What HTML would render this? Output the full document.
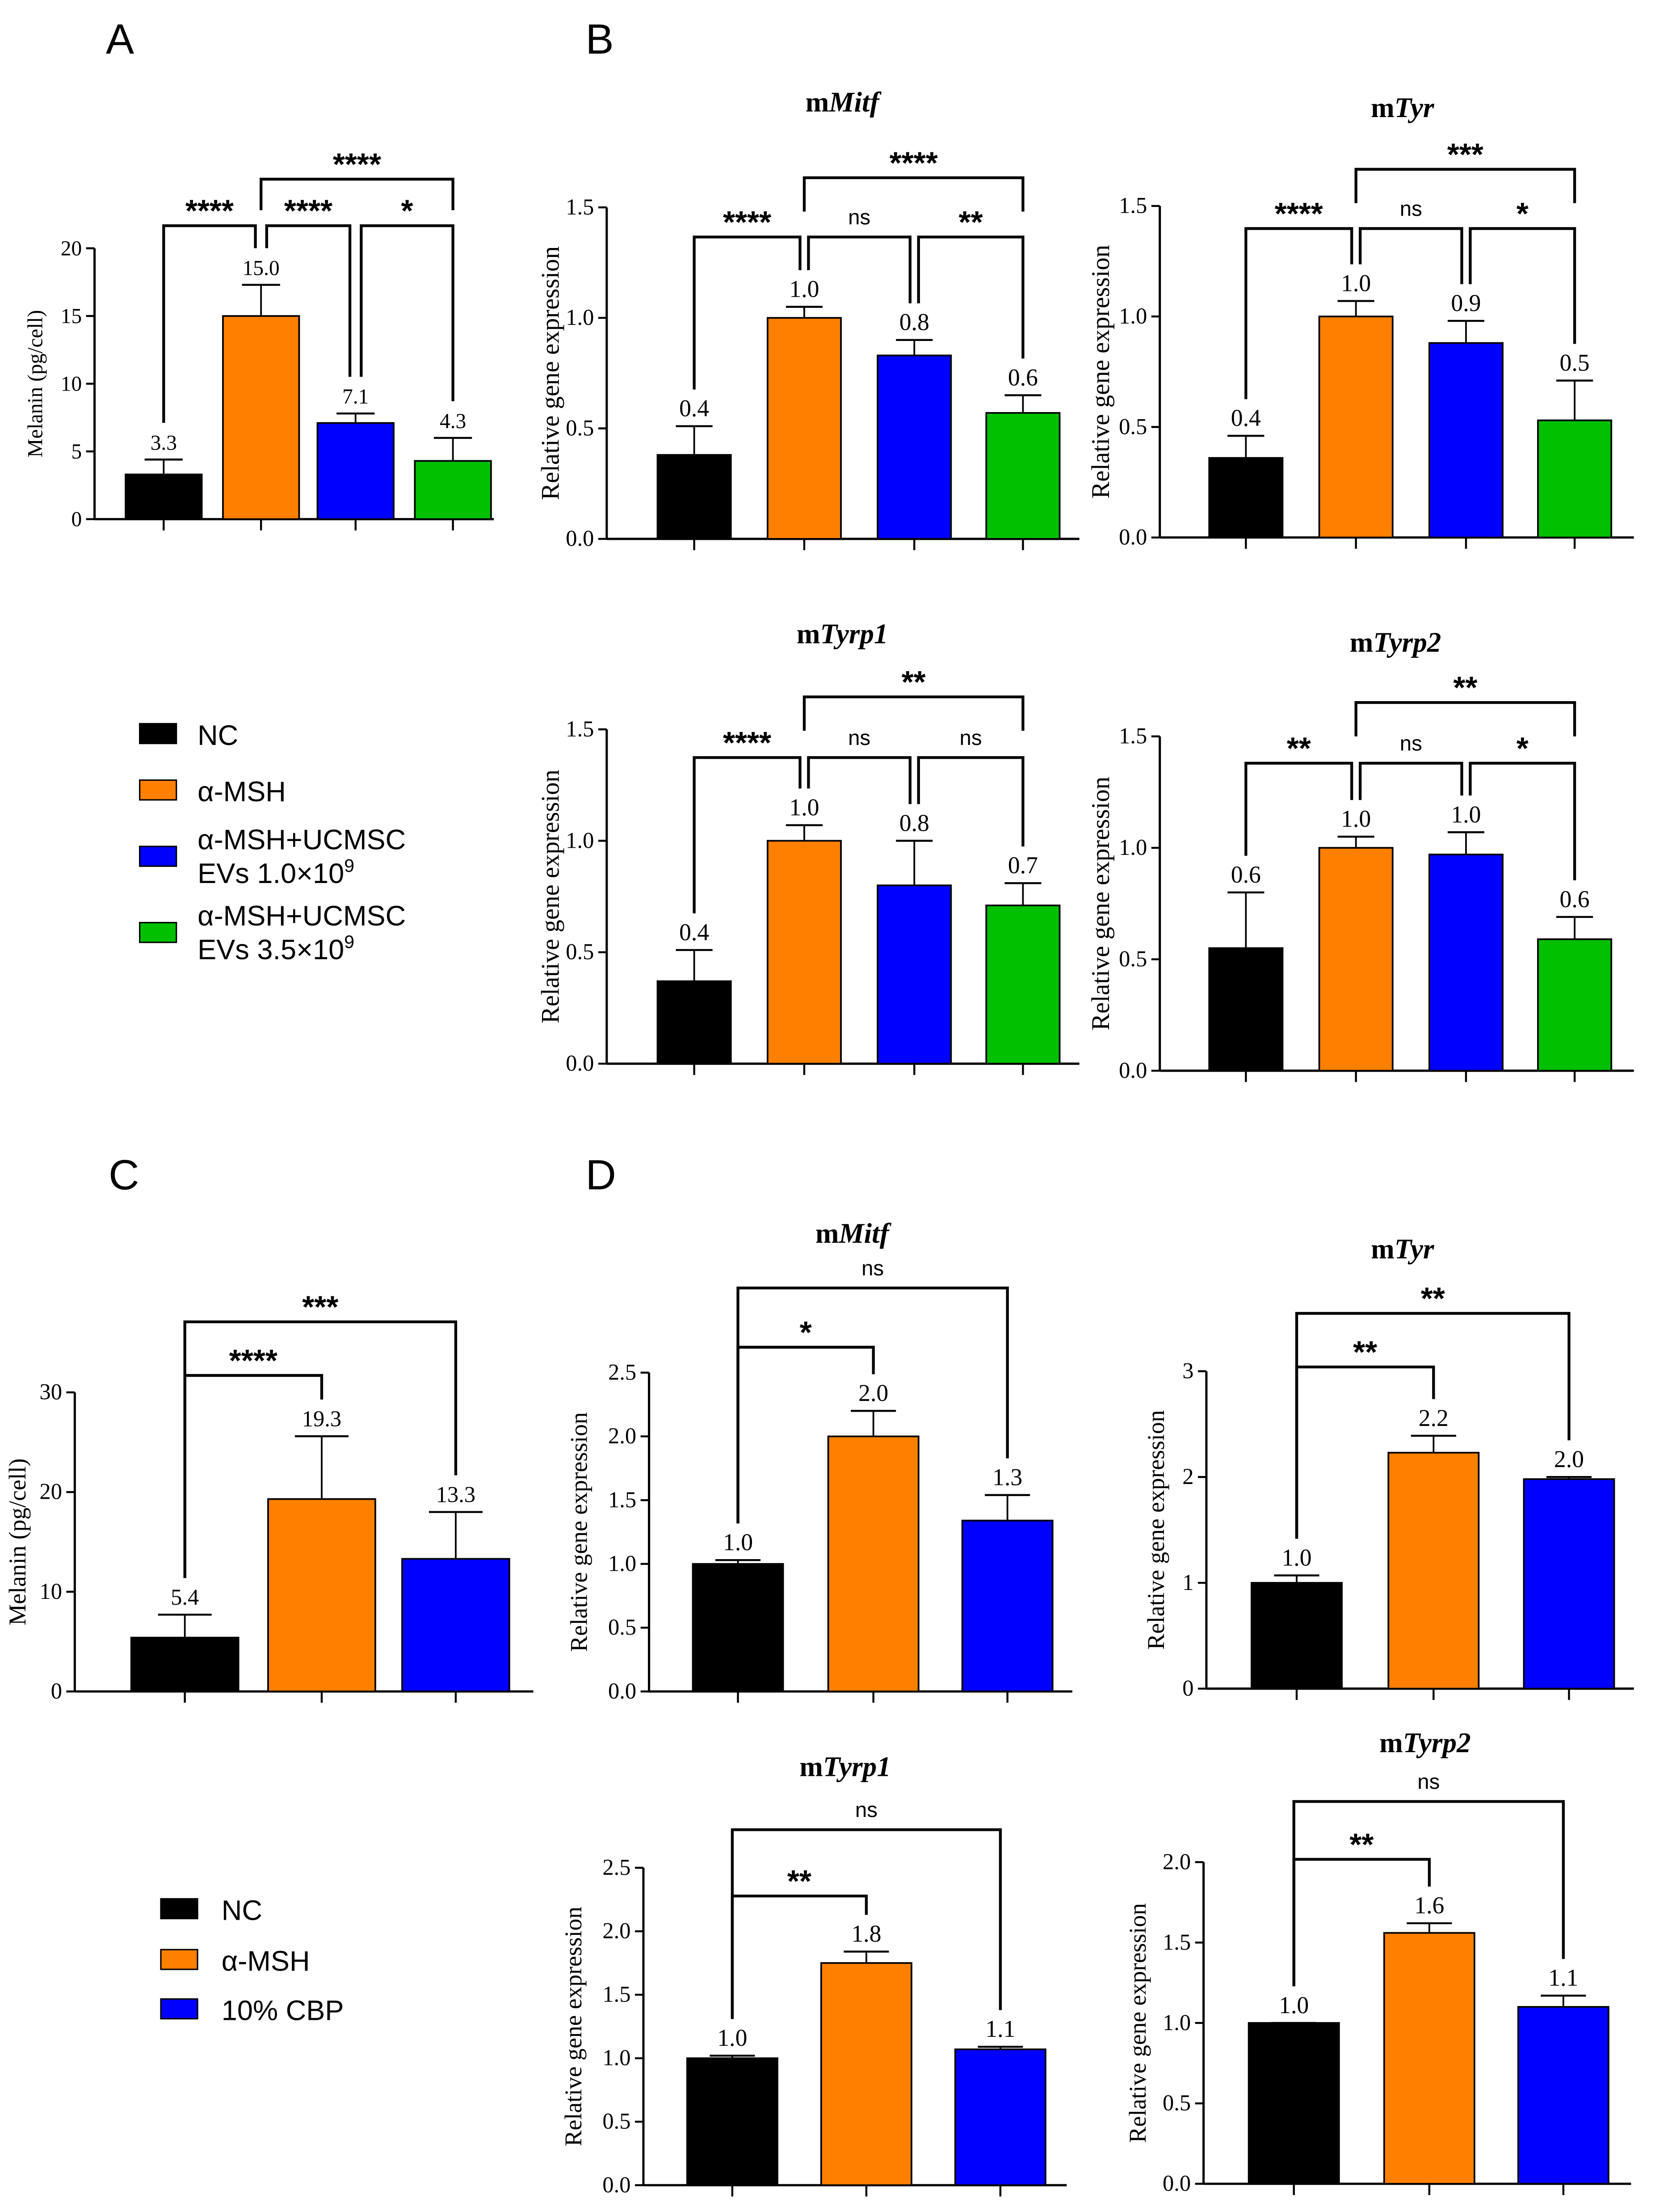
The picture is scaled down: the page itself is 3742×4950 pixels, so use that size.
<!DOCTYPE html>
<html><head><meta charset="utf-8">
<style>
html,body{margin:0;padding:0;background:#fff;}
svg{display:block;}
text{font-family:"Liberation Serif",serif;fill:#000;}
.sans{font-family:"Liberation Sans",sans-serif;}
</style></head>
<body>
<svg id="fig" xmlns="http://www.w3.org/2000/svg" width="3742" height="4950" viewBox="0 0 1185 1568" preserveAspectRatio="none">
<rect x="0" y="0" width="1185" height="1568" fill="#fff"/>
<text class="sans" x="75" y="38" font-size="30">A</text>
<text class="sans" x="415" y="38" font-size="30">B</text>
<text class="sans" x="77" y="843" font-size="30">C</text>
<text class="sans" x="415" y="843" font-size="30">D</text>

<g>
<rect x="99" y="513" width="26" height="14" fill="#000" stroke="#000"/>
<text class="sans" x="140" y="528" font-size="20">NC</text>
<rect x="99" y="553" width="26" height="14" fill="#FF8000" stroke="#000"/>
<text class="sans" x="140" y="568" font-size="20">α-MSH</text>
<rect x="99" y="600" width="26" height="14" fill="#0000FF" stroke="#000"/>
<text class="sans" x="140" y="602" font-size="20">α-MSH+UCMSC</text>
<text class="sans" x="140" y="626" font-size="20">EVs 1.0×10<tspan font-size="13" dy="-8">9</tspan></text>
<rect x="99" y="654" width="26" height="14" fill="#00C000" stroke="#000"/>
<text class="sans" x="140" y="656" font-size="20">α-MSH+UCMSC</text>
<text class="sans" x="140" y="680" font-size="20">EVs 3.5×10<tspan font-size="13" dy="-8">9</tspan></text>
</g>
<g>
<rect x="114" y="1346" width="26" height="14" fill="#000" stroke="#000"/>
<text class="sans" x="157" y="1361" font-size="20">NC</text>
<rect x="114" y="1382" width="26" height="14" fill="#FF8000" stroke="#000"/>
<text class="sans" x="157" y="1397" font-size="20">α-MSH</text>
<rect x="114" y="1417" width="26" height="14" fill="#0000FF" stroke="#000"/>
<text class="sans" x="157" y="1432" font-size="20">10% CBP</text>
</g>
</svg>
<script>
// ---- data ----
const groupsA = ['NC','α-MSH','EVs 1.0e9','EVs 3.5e9'];
const groupsC = ['NC','α-MSH','10% CBP'];
const valA = [3.3, 15.0, 7.1, 4.3];
const errA = [4.4, 17.3, 7.8, 6.0];
const lblA = ['3.3','15.0','7.1','4.3'];
const ticksA = [0,5,10,15,20];
const valBMitf = [0.38, 1.0, 0.83, 0.57];
const errBMitf = [0.51, 1.05, 0.90, 0.65];
const lblBMitf = ['0.4','1.0','0.8','0.6'];
const valBTyr = [0.36, 1.0, 0.88, 0.53];
const errBTyr = [0.46, 1.07, 0.98, 0.71];
const lblBTyr = ['0.4','1.0','0.9','0.5'];
const valBTyrp1 = [0.37, 1.0, 0.80, 0.71];
const errBTyrp1 = [0.51, 1.07, 1.0, 0.81];
const lblBTyrp1 = ['0.4','1.0','0.8','0.7'];
const valBTyrp2 = [0.55, 1.0, 0.97, 0.59];
const errBTyrp2 = [0.80, 1.05, 1.07, 0.69];
const lblBTyrp2 = ['0.6','1.0','1.0','0.6'];
const ticksB = [0,0.5,1.0,1.5];
const valC = [5.4, 19.3, 13.3];
const errC = [7.7, 25.6, 18.0];
const lblC = ['5.4','19.3','13.3'];
const ticksC = [0,10,20,30];
const valDMitf = [1.0, 2.0, 1.34];
const errDMitf = [1.03, 2.2, 1.54];
const lblDMitf = ['1.0','2.0','1.3'];
const valDTyr = [1.0, 2.23, 1.98];
const errDTyr = [1.07, 2.39, 2.0];
const lblDTyr = ['1.0','2.2','2.0'];
const valDTyrp1 = [1.0, 1.75, 1.07];
const errDTyrp1 = [1.02, 1.84, 1.09];
const lblDTyrp1 = ['1.0','1.8','1.1'];
const valDTyrp2 = [1.0, 1.56, 1.10];
const errDTyrp2 = [1.0, 1.62, 1.17];
const lblDTyrp2 = ['1.0','1.6','1.1'];
const ticksD25 = [0,0.5,1.0,1.5,2.0,2.5];
const ticksD3 = [0,1,2,3];
const ticksD2 = [0,0.5,1.0,1.5,2.0];
const sigA = ['****','****','*','****'];
const sigBMitf = ['****','ns','**','****'];
const sigBTyr = ['****','ns','*','***'];
const sigBTyrp1 = ['****','ns','ns','**'];
const sigBTyrp2 = ['**','ns','*','**'];
const sigC = ['****','***'];
const sigDMitf = ['*','ns'];
const sigDTyr = ['**','**'];
const sigDTyrp1 = ['**','ns'];
const sigDTyrp2 = ['**','ns'];
const colors4 = ['#000000','#FF8000','#0000FF','#00C000'];

const NS='http://www.w3.org/2000/svg';
const svg=document.getElementById('fig');
function mk(tag,attrs,parent){const e=document.createElementNS(NS,tag);for(const k in attrs)e.setAttribute(k,attrs[k]);(parent||svg).appendChild(e);return e;}

function panel(p){
  const g=mk('g',{});
  
  
  const tmax=p.ticks[p.ticks.length-1];
  const y=v=>p.y0-(v/tmax)*(p.y0-p.yTop);
  const n=p.vals.length;
  const ya=mk('line',{x1:p.ax,y1:p.yTop,x2:p.ax,y2:p.y0,stroke:'#000','stroke-width':1.6},g);
  
  
  const xa=mk('line',{x1:p.ax,y1:p.y0,x2:p.axEnd,y2:p.y0,stroke:'#000','stroke-width':1.6},g);
  
  
  p.ticks.forEach((t,i)=>{
    mk('line',{x1:p.ax-6,y1:y(t),x2:p.ax,y2:y(t),stroke:'#000','stroke-width':1.4},g);
    const tl=mk('text',{x:p.ax-9,y:y(t)+5,'font-size':p.fs||16,'text-anchor':'end'},g);
    tl.textContent=p.tickFmt?p.tickFmt(t):String(t);
    
    
  });
  const yl=mk('text',{x:0,y:0,'font-size':p.ylfs||18,'text-anchor':'middle',transform:`translate(${p.ylx},${(p.yTop+p.y0)/2}) rotate(-90)`},g);
  yl.textContent=p.ylabel;
  
  
  for(let i=0;i<n;i++){
    const cx=p.cx[i], w=p.bw;
    mk('line',{x1:cx,y1:p.y0,x2:cx,y2:p.y0+8,stroke:'#000','stroke-width':1.4},g);
    mk('line',{x1:cx,y1:y(p.vals[i]),x2:cx,y2:y(p.errs[i]),stroke:'#000','stroke-width':1.2},g);
    mk('line',{x1:cx-w*0.25,y1:y(p.errs[i]),x2:cx+w*0.25,y2:y(p.errs[i]),stroke:'#000','stroke-width':1.4},g);
    const b=mk('rect',{x:cx-w/2,y:y(p.vals[i]),width:w,height:p.y0-y(p.vals[i]),fill:colors4[i],stroke:'#000','stroke-width':1.2},g);
    
    
    const vl=mk('text',{x:cx,y:y(p.errs[i])-7,'font-size':p.vfs||17,'text-anchor':'middle'},g);
    vl.textContent=p.labels[i];
    
    
  }
  p.br.forEach((b,k)=>{
    const [i,j,yb,outer]=b;
    const x1=p.cx[i]+(b[4]||0), x2=p.cx[j]+(b[5]||0);
    const e1=outer?yb+p.gap:y(p.errs[i])-26, e2=outer?yb+p.gap:y(p.errs[j])-26;
    const pl=mk('polyline',{points:`${x1},${e1} ${x1},${yb} ${x2},${yb} ${x2},${e2}`,fill:'none',stroke:'#000','stroke-width':2},g);
    
    
    const s=p.sig[k];
    const st=mk('text',{x:(x1+x2)/2,y:s==='ns'?yb-9:yb-3,'font-size':s==='ns'?15:22,'font-weight':s==='ns'?'normal':'bold','text-anchor':'middle',class:'sans'},g);
    st.textContent=s;
    
    
  });
  if(p.title){
    const t=mk('text',{x:p.title[0],y:p.title[1],'font-size':20,'font-weight':'bold','text-anchor':'middle'},g);
    
    
    const a=mk('tspan',{},t);a.textContent='m';
    const b2=mk('tspan',{'font-style':'italic'},t);b2.textContent=p.title[2];
  }
}
const f1=t=>t.toFixed(1);
const RGE='Relative gene expression';
panel({name:'panel-a-melanin',ax:67,axEnd:350,y0:368,yTop:176,ticks:ticksA,cx:[116,185,252,321],bw:54,vals:valA,errs:errA,labels:lblA,ylabel:'Melanin (pg/cell)',ylx:30,ylfs:15,fs:15,vfs:15,sig:sigA,gap:22,
  br:[[0,1,160,false,0,-4],[1,2,160,false,4,-4],[2,3,160,false,4,0],[1,3,127,true]]});
panel({name:'panel-b-mitf',ax:430,axEnd:765,y0:382,yTop:147,ticks:ticksB,tickFmt:f1,cx:[492,570,648,725],bw:52,vals:valBMitf,errs:errBMitf,labels:lblBMitf,ylabel:RGE,ylx:396,sig:sigBMitf,gap:24,title:[597,79,'Mitf'],
  br:[[0,1,168,false,0,-3],[1,2,168,false,3,-3],[2,3,168,false,3,0],[1,3,126,true]]});
panel({name:'panel-b-tyr',ax:822,axEnd:1158,y0:381,yTop:146,ticks:ticksB,tickFmt:f1,cx:[883,961,1039,1116],bw:52,vals:valBTyr,errs:errBTyr,labels:lblBTyr,ylabel:RGE,ylx:786,sig:sigBTyr,gap:24,title:[994,83,'Tyr'],
  br:[[0,1,162,false,0,-3],[1,2,162,false,3,-3],[2,3,162,false,3,0],[1,3,120,true]]});
panel({name:'panel-b-tyrp1',ax:430,axEnd:765,y0:754,yTop:517,ticks:ticksB,tickFmt:f1,cx:[492,570,648,725],bw:52,vals:valBTyrp1,errs:errBTyrp1,labels:lblBTyrp1,ylabel:RGE,ylx:396,sig:sigBTyrp1,gap:24,title:[597,456,'Tyrp1'],
  br:[[0,1,537,false,0,-3],[1,2,537,false,3,-3],[2,3,537,false,3,0],[1,3,494,true]]});
panel({name:'panel-b-tyrp2',ax:822,axEnd:1158,y0:759,yTop:522,ticks:ticksB,tickFmt:f1,cx:[883,961,1039,1116],bw:52,vals:valBTyrp2,errs:errBTyrp2,labels:lblBTyrp2,ylabel:RGE,ylx:786,sig:sigBTyrp2,gap:24,title:[989,462,'Tyrp2'],
  br:[[0,1,541,false,0,-3],[1,2,541,false,3,-3],[2,3,541,false,3,0],[1,3,498,true]]});
panel({name:'panel-c-melanin',ax:53,axEnd:378,y0:1199,yTop:987,ticks:ticksC,cx:[131,228,323],bw:76,vals:valC,errs:errC,labels:lblC,ylabel:'Melanin (pg/cell)',ylx:18,ylfs:17,fs:16,vfs:16,sig:sigC,gap:0,
  br:[[0,1,975,false],[0,2,937,false]]});
panel({name:'panel-d-mitf',ax:460,axEnd:760,y0:1199,yTop:973,ticks:ticksD25,tickFmt:f1,cx:[523,619,714],bw:64,vals:valDMitf,errs:errDMitf,labels:lblDMitf,ylabel:RGE,ylx:416,ylfs:17,sig:sigDMitf,gap:0,title:[604,881,'Mitf'],
  br:[[0,1,955,false],[0,2,913,false]]});
panel({name:'panel-d-tyr',ax:855,axEnd:1158,y0:1197,yTop:972,ticks:ticksD3,cx:[919,1016,1112],bw:64,vals:valDTyr,errs:errDTyr,labels:lblDTyr,ylabel:RGE,ylx:825,ylfs:17,sig:sigDTyr,gap:0,title:[994,892,'Tyr'],
  br:[[0,1,969,false],[0,2,931,false]]});
panel({name:'panel-d-tyrp1',ax:456,axEnd:756,y0:1549,yTop:1324,ticks:ticksD25,tickFmt:f1,cx:[519,614,709],bw:64,vals:valDTyrp1,errs:errDTyrp1,labels:lblDTyrp1,ylabel:RGE,ylx:412,ylfs:17,sig:sigDTyrp1,gap:0,title:[599,1259,'Tyrp1'],
  br:[[0,1,1344,false],[0,2,1297,false]]});
panel({name:'panel-d-tyrp2',ax:853,axEnd:1156,y0:1548,yTop:1320,ticks:ticksD2,tickFmt:f1,cx:[917,1013,1108],bw:64,vals:valDTyrp2,errs:errDTyrp2,labels:lblDTyrp2,ylabel:RGE,ylx:812,ylfs:17,sig:sigDTyrp2,gap:0,title:[1010,1242,'Tyrp2'],
  br:[[0,1,1318,false],[0,2,1277,false]]});
</script>
</body></html>
